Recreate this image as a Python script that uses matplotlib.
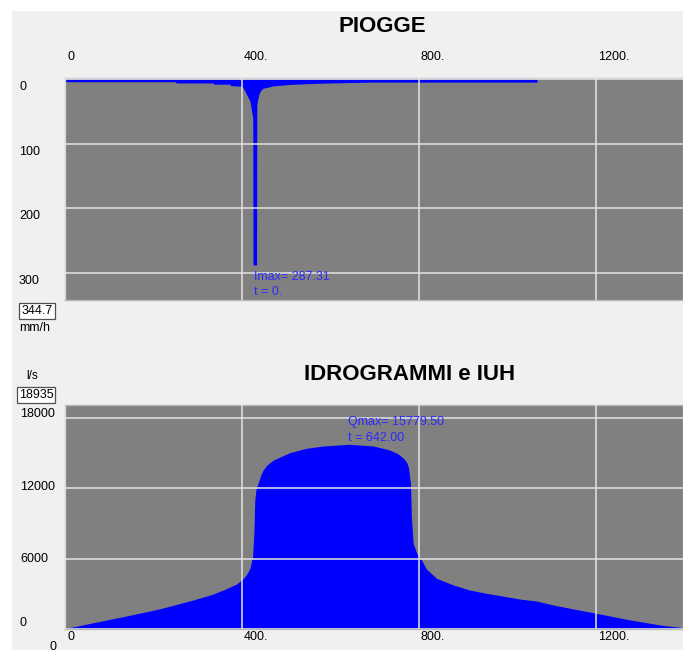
import matplotlib
matplotlib.use('Agg')
import matplotlib.pyplot as plt
import matplotlib.transforms as mtransforms
from matplotlib.patches import Rectangle

# ---------------- data ----------------
rain_t = [0, 250, 251, 335, 336, 373, 374, 399, 403, 407, 412, 418, 422, 424.5,
          425, 433, 433.5, 436, 439, 443, 448, 459, 471, 508, 561, 621, 689,
          1067, 1067.5]
rain_i = [4, 4, 6, 6, 7.8, 7.8, 10, 11, 14, 19, 26, 34, 50, 60,
          287.31, 287.31, 40, 30, 22, 17, 14, 12.4, 10.4, 8.3, 6.7, 5.7, 4.7,
          4.7, 0]

hyd_t = [0, 64, 139, 215, 290, 335, 365, 388, 399, 410, 418, 424, 427, 429, 432,
         437, 442, 448, 456, 471, 508, 546, 584, 642, 697, 734, 752, 765, 772,
         776, 781, 783, 787, 795, 806, 817, 840, 878, 915, 953, 1028, 1066, 1104,
         1141, 1194, 1232, 1269, 1345, 1397]
hyd_q = [0, 505, 1080, 1700, 2450, 2960, 3420, 3820, 4160, 4590, 5160, 6160, 8160,
         11010, 12000, 12500, 13100, 13580, 13980, 14430, 15060, 15440, 15630,
         15779.5, 15630, 15290, 14980, 14580, 14250, 13860, 12440, 9580, 7300,
         6450, 5870, 5100, 4300, 3730, 3300, 3020, 2530, 2360, 2020, 1740, 1360,
         1080, 800, 310, 80]

x_ticks = [0, 400, 800, 1200]
x_tick_labels = ['0', '400.', '800.', '1200.']
rain_ticks = [0, 100, 200, 300]
rain_tick_labels = ['0', '100', '200', '300']
flow_ticks = [0, 6000, 12000, 18000]
flow_tick_labels = ['0', '6000', '12000', '18000']

rain_peak_t = 427
imax_text = ['Imax= 287.31', 't = 0.']
qmax_t = 642.00
qmax = 15779.50
qmax_text = ['Qmax= 15779.50', 't = 642.00']

t_max = 1397
rain_lim = (341.5, -2.5)
flow_lim = (0, 19140)

title_top = 'PIOGGE'
title_bottom = 'IDROGRAMMI e IUH'
rain_box = '344.7'
rain_unit = 'mm/h'
flow_box = '18935'
flow_unit = 'l/s'

# ---------------- style ----------------
W, H = 683, 653
FONT = 'Liberation Sans'
BLUE = '#0000ff'
ANN = '#2a2aff'
PLOT_BG = '#808080'
GRID = '#e4e4e4'

fig = plt.figure(figsize=(W / 100, H / 100), dpi=100, facecolor='white')
fig.patches.append(Rectangle((12 / W, 3 / H), 1 - 12 / W, 1 - 14 / H,
                             transform=fig.transFigure, facecolor='#f0f0f0',
                             edgecolor='none', zorder=-10))


def px(dx, dy):
    return mtransforms.ScaledTranslation(dx / 100, dy / 100, fig.dpi_scale_trans)


def style_axes(ax):
    ax.set_facecolor(PLOT_BG)
    for s in ax.spines.values():
        s.set_color('#b8b8b8')
        s.set_linewidth(1.0)
    ax.tick_params(length=0, labelleft=False, labelbottom=False,
                   labeltop=False, labelright=False)
    ax.set_axisbelow(False)
    ax.grid(True, color=GRID, linewidth=1.1)


# ---------------- top: rain ----------------
ax1 = fig.add_axes([65 / W, 1 - 300 / H, 618 / W, 222.5 / H])
style_axes(ax1)
ax1.fill_between(rain_t, 0, rain_i, color=BLUE, linewidth=0)
ax1.set_xlim(0, t_max)
ax1.set_ylim(*rain_lim)
ax1.set_xticks(x_ticks)
ax1.set_yticks(rain_ticks)

for xv, lab in zip(x_ticks, x_tick_labels):
    ax1.text(xv, 1, lab, transform=ax1.get_xaxis_transform() + px(2, 20.5),
             ha='left', va='center', fontsize=9, family=FONT)
for yv, lab in zip(rain_ticks, rain_tick_labels):
    ax1.text(0, yv, lab, transform=ax1.get_yaxis_transform() + px(-46, -8),
             ha='left', va='center', fontsize=9, family=FONT)

imax_val = max(rain_i)
ax1.text(rain_peak_t, imax_val, imax_text[0], transform=ax1.transData + px(0, -12),
         ha='left', va='center', fontsize=9, family=FONT, color=ANN)
ax1.text(rain_peak_t, imax_val, imax_text[1], transform=ax1.transData + px(0, -27),
         ha='left', va='center', fontsize=9, family=FONT, color=ANN)

fig.text(382 / W, 1 - 27 / H, title_top, ha='center', va='center',
         fontsize=16, fontweight='bold', family=FONT)

fig.text(37 / W, 1 - 311 / H, rain_box, ha='center', va='center', fontsize=9,
         family=FONT,
         bbox=dict(boxstyle='square,pad=0.18', facecolor='white',
                   edgecolor='#505050', linewidth=0.9))
fig.text(19 / W, 1 - 328 / H, rain_unit, ha='left', va='center', fontsize=9,
         family=FONT)

# ---------------- bottom: hydrograph ----------------
ax2 = fig.add_axes([65 / W, 1 - 628.6 / H, 618 / W, 223.6 / H])
style_axes(ax2)
ax2.fill_between(hyd_t, 0, hyd_q, color=BLUE, linewidth=0)
ax2.set_xlim(0, t_max)
ax2.set_ylim(*flow_lim)
ax2.set_xticks(x_ticks)
ax2.set_yticks(flow_ticks)

for xv, lab in zip(x_ticks, x_tick_labels):
    ax2.text(xv, 0, lab, transform=ax2.get_xaxis_transform() + px(2, -8),
             ha='left', va='center', fontsize=9, family=FONT)
flow_offsets = [5.5, 0, 1, 4.5]
for yv, lab, off in zip(flow_ticks, flow_tick_labels, flow_offsets):
    ax2.text(0, yv, lab, transform=ax2.get_yaxis_transform() + px(-45, off),
             ha='left', va='center', fontsize=9, family=FONT)
ax2.text(0, 0, '0', transform=ax2.transAxes + px(-15, -18),
         ha='left', va='center', fontsize=9, family=FONT)

ax2.text(qmax_t, qmax, qmax_text[0], transform=ax2.transData + px(-1, 22.5),
         ha='left', va='center', fontsize=9, family=FONT, color=ANN)
ax2.text(qmax_t, qmax, qmax_text[1], transform=ax2.transData + px(-1, 6.5),
         ha='left', va='center', fontsize=9, family=FONT, color=ANN)

fig.text(410 / W, 1 - 374 / H, title_bottom, ha='center', va='center',
         fontsize=16, fontweight='bold', family=FONT)
fig.text(26 / W, 1 - 376 / H, flow_unit, ha='left', va='center', fontsize=8.5,
         family=FONT)
fig.text(36 / W, 1 - 395 / H, flow_box, ha='center', va='center', fontsize=9,
         family=FONT,
         bbox=dict(boxstyle='square,pad=0.15', facecolor='white',
                   edgecolor='#505050', linewidth=0.9))

fig.savefig('out.png', dpi=100, facecolor=fig.get_facecolor())
